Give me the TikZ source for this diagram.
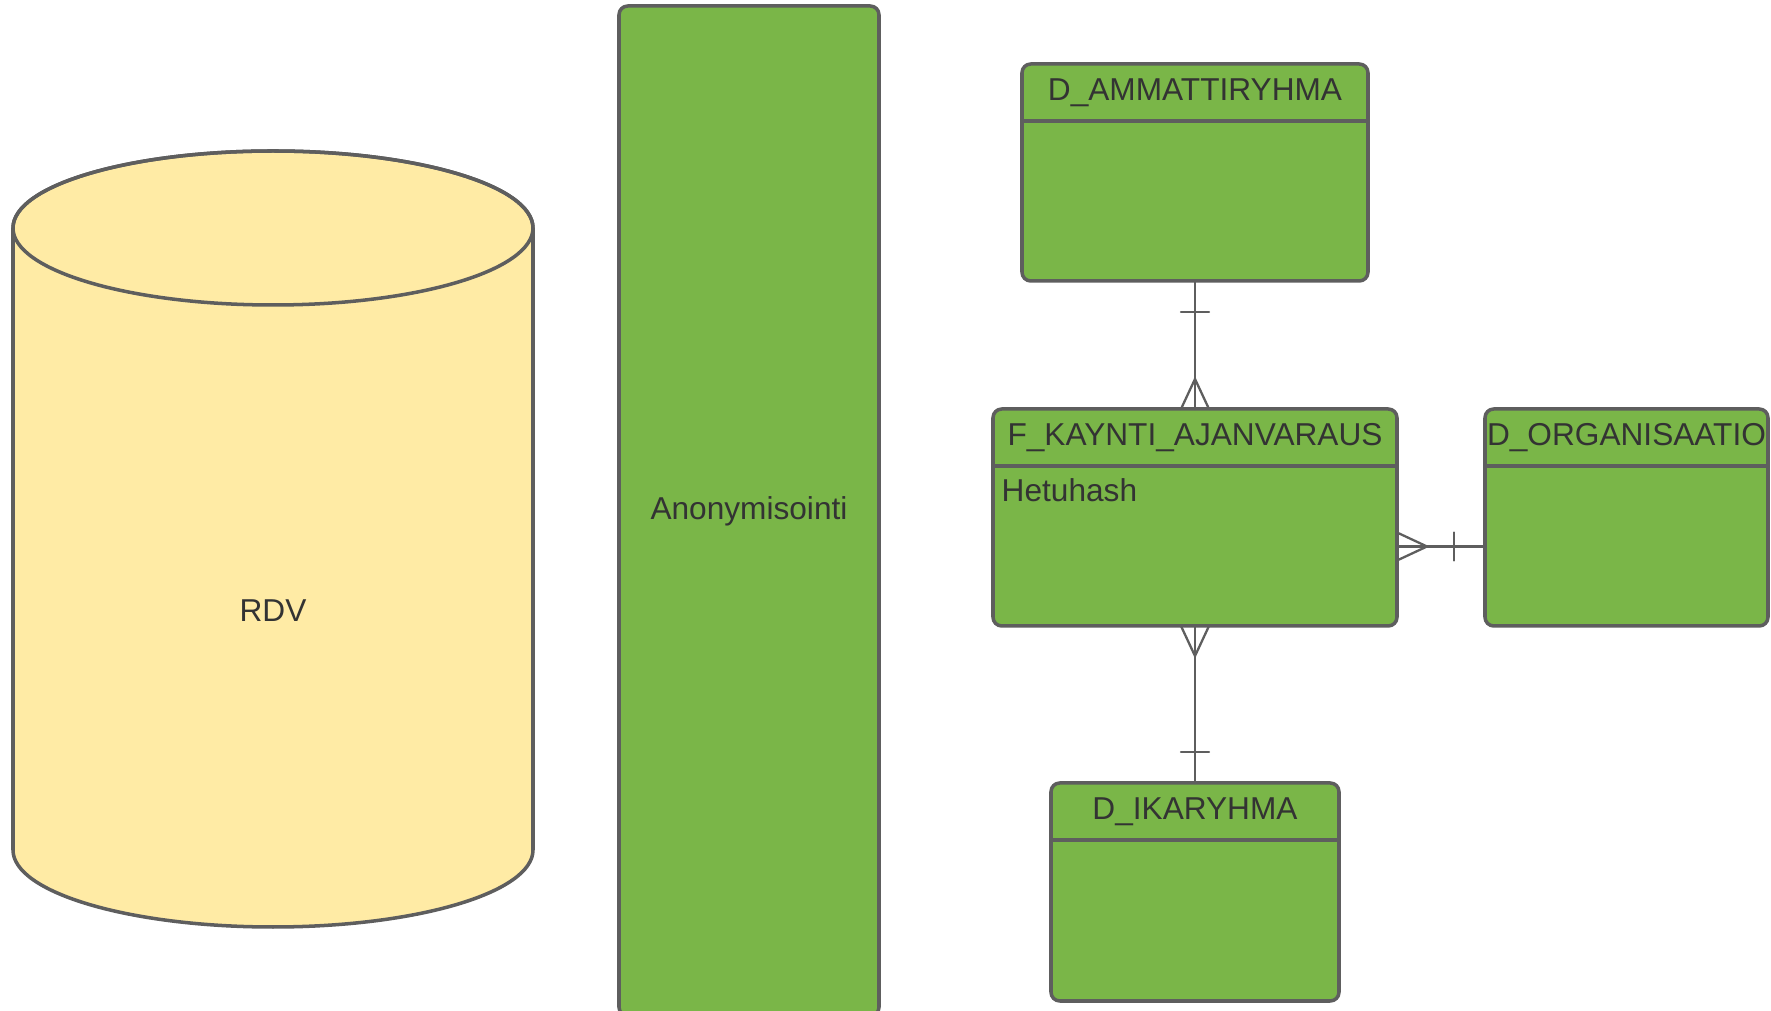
\documentclass[tikz,border=0pt]{standalone}
\usepackage{fontspec}
\setmainfont{Liberation Sans}
\definecolor{lucidgreen}{HTML}{7AB648}
\definecolor{dbyellow}{HTML}{FFEBA5}
\definecolor{edgegray}{HTML}{5E5E5E}
\definecolor{textgray}{HTML}{333333}
\begin{document}
\begin{tikzpicture}[line join=round, line cap=round]
	\tikzset{every node/.style={font=\fontsize{9}{11}\selectfont, text=textgray},
		entity/.style={draw=edgegray, fill=lucidgreen, line width=1pt, rounded corners=2.5pt, minimum height=2.17cm, inner sep=0pt, outer sep=0pt},
		header/.style={draw=edgegray, line width=1pt, line cap=butt},
		title/.style={anchor=base, inner sep=0pt},
		link/.style={draw=edgegray, line width=0.65pt}}
	\clip (0,0) rectangle (17.71,-10.11);
	% tietokanta
	\filldraw[fill=dbyellow, draw=edgegray, line width=1pt] (0.13,-2.28) -- (0.13,-8.50)
		arc[start angle=180, end angle=360, x radius=2.60, y radius=0.77] -- (5.33,-2.28)
		arc[start angle=0, end angle=180, x radius=2.60, y radius=0.77] -- cycle;
	\draw[edgegray, line width=1pt] (2.73,-2.28) ellipse [x radius=2.60, y radius=0.77];
	\node (rdv) at (2.73,-6.11) {RDV};
	% anonymisointi
	\node[entity, minimum width=2.60cm, minimum height=10.10cm] (anon) at (7.49,-5.11) {Anonymisointi};
	% taulut
	\node[entity, minimum width=3.46cm] (amm) at (11.95,-1.725) {};
	\node[entity, minimum width=4.04cm] (fact) at (11.95,-5.175) {};
	\node[entity, minimum width=2.83cm] (org) at (16.265,-5.175) {};
	\node[entity, minimum width=2.88cm, minimum height=2.18cm] (ika) at (11.95,-8.92) {};
	\foreach \e in {amm,fact,org,ika}
		\draw[header] ([yshift=-0.57cm]\e.north west) -- ([yshift=-0.57cm]\e.north east);
	\node[title] (amm-t) at ([yshift=-0.365cm]amm.north) {D\_AMMATTIRYHMA};
	\node[title] (fact-t) at ([yshift=-0.37cm]fact.north) {F\_KAYNTI\_AJANVARAUS};
	\node[title] (org-t) at ([yshift=-0.37cm]org.north) {D\_ORGANISAATIO};
	\node[title] (ika-t) at ([yshift=-0.37cm]ika.north) {D\_IKARYHMA};
	\node[anchor=base west, inner sep=0pt] (hetu) at ([xshift=0.08cm, yshift=-0.93cm]fact.north west) {Hetuhash};
	% yhteydet
	\draw[link] (amm.south) -- (fact.north);
	\draw[link] ([xshift=-0.14cm, yshift=-0.31cm]amm.south) -- ++(0.28,0);
	\draw[link] ([xshift=-0.14cm]fact.north) -- ([yshift=0.30cm]fact.north) -- ([xshift=0.14cm]fact.north);
	\draw[link] (fact.south) -- (ika.north);
	\draw[link] ([xshift=-0.14cm, yshift=0.31cm]ika.north) -- ++(0.28,0);
	\draw[link] ([xshift=-0.14cm]fact.south) -- ([yshift=-0.30cm]fact.south) -- ([xshift=0.14cm]fact.south);
	\coordinate (fact-o) at ([yshift=-0.29cm]fact.east);
	\coordinate (org-f) at ([yshift=-0.29cm]org.west);
	\draw[link] (fact-o) -- (org-f);
	\draw[link] ([yshift=0.14cm]fact-o) -- ([xshift=0.30cm]fact-o) -- ([yshift=-0.14cm]fact-o);
	\draw[link] ([xshift=-0.31cm, yshift=0.14cm]org-f) -- ++(0,-0.28);
\end{tikzpicture}
\end{document}
